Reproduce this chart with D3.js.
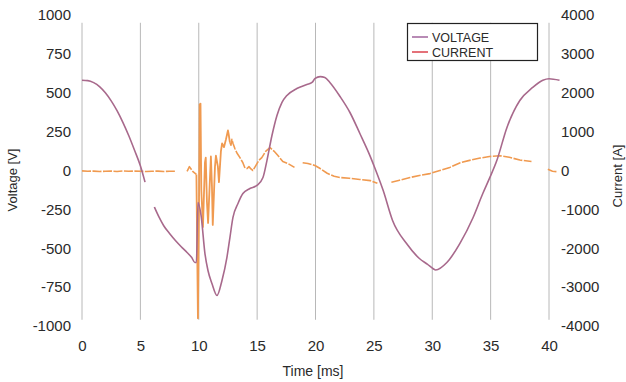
<!DOCTYPE html>
<html>
<head>
<meta charset="utf-8">
<script src="https://cdn.jsdelivr.net/npm/d3@7"></script>
<style>
  html, body { margin: 0; padding: 0; background: #fff; }
  svg { display: block; }
  text { font-family: "Liberation Sans", Arial, sans-serif; fill: #2a2a2a; }
</style>
</head>
<body>
<svg id="chart" width="626" height="382"></svg>
<script>
// ---- data ----
const xTicks = [0, 5, 10, 15, 20, 25, 30, 35, 40];
const voltageTicks = [1000, 750, 500, 250, 0, -250, -500, -750, -1000];
const currentTicks = [4000, 3000, 2000, 1000, 0, -1000, -2000, -3000, -4000];

// Voltage [V] vs time [ms] (null = gap in trace)
const voltageTime = [0, 0.5, 1, 1.5, 2, 2.5, 3, 3.5, 4, 4.5, 5, 5.4, 5.8,
  6.2, 6.6, 7, 7.5, 8, 8.5, 9, 9.4, 9.67, 9.8, 9.93, 10.2, 10.53, 10.79, 11.13, 11.56,
  11.99, 12.41, 12.67, 12.93, 13.36, 13.78, 14.38, 14.98, 15.5, 15.84, 16.27, 16.7,
  17.12, 17.55, 18.4, 19.26, 19.7, 19.97, 20.4, 20.8, 21.23, 22.1, 22.95, 23.8,
  24.66, 25.1, 25.8, 26.6, 27.8, 28.9, 29.6, 30.05, 30.3, 31.25, 32.36, 33.5, 34.33,
  34.9, 35.53, 36.4, 37.5, 38.6, 39.47, 40, 40.9];
const voltageValue = [580, 578, 565, 540, 500, 448, 385, 310, 225, 130, 30, -75, null,
  -235, -300, -355, -405, -450, -490, -527, -560, -592, -592, -206, -290, -534, -643, -727, -804,
  -707, -560, -431, -302, -212, -148, -116, -96, -45, 64, 225, 354,
  437, 482, 527, 553, 566, 592, 604, 598, 566, 476, 373, 238,
  96, 13, -129, -321, -470, -566, -604, -630, -640, -592, -470, -302, -148,
  -51, 64, 277, 450, 534, 580, 590, 580];

// Current [A] vs time [ms]
const currentTime = [0, 0.5, 1, 1.5, 2, 2.5, 3, 3.5, 4, 4.5, 5, 5.5, 6, 6.5, 7, 7.5, 8, 8.5,
  9.0, 9.2, 9.5, 9.8, 9.93, 10.02, 10.08, 10.15, 10.22, 10.36, 10.53, 10.6, 10.7, 10.8,
  10.96, 11.04, 11.13, 11.2, 11.39, 11.47, 11.64, 11.73, 11.9, 12.0, 12.16, 12.33, 12.5,
  12.58, 12.67, 12.76, 12.84, 12.93, 13.1, 13.27, 13.53, 13.78, 13.96, 14.13, 14.3, 14.47,
  14.64, 14.9, 15.15, 15.4, 15.75, 16.1, 16.44, 16.8, 17.2, 17.64, 18.2, 18.5,
  18.9, 19.35, 19.95, 20.4, 21, 21.6, 22.1, 22.9, 23.8, 24.7, 25.3, 25.9,
  26.5, 27.2, 28.1, 28.9, 29.8, 30.65, 31.5, 32.4, 33.2, 34.1, 34.9, 35.8, 36.6, 37.5,
  38.5, 39.2, 39.9, 40.3, 40.7];
const currentValue = [-10, -20, -15, -25, -20, -15, -25, -10, -20, -15, -20, -25, -20, -15, -25, -20, -20, null,
  -20, 100, -30, -100, -3800, -1000, 1700, 1720, -500, -1450, 200, 330, -800, -1350,
  -200, 360, -400, -1400, 100, 380, 100, -300, 500, 700, 600, 800, 1030,
  900, 720, 650, 800, 700, 560, 450, 330, 200, 60, 50, 100, 40,
  0, 130, 260, 330, 500, 590, 500, 380, 230, 180, 80, null,
  200, 180, 130, 50, -70, -150, -180, -200, -230, -260, -330, null,
  -300, -250, -180, -130, -80, 0, 80, 200, 260, 320, 360, 380, 340, 270,
  230, null, 30, -20, -30];

const legendLabels = ["VOLTAGE", "CURRENT"];

// ---- chart ----
const svg = d3.select("#chart");
const x = d3.scaleLinear().domain([0, 40]).range([82, 549]);
const yV = d3.scaleLinear().domain([-1000, 1000]).range([326, 15]);
const yI = d3.scaleLinear().domain([-4000, 4000]).range([326, 15]);
const fmt = d => String(d);

// vertical grid lines
svg.append("g").selectAll("line").data(xTicks).join("line")
  .attr("x1", d => x(d)).attr("x2", d => x(d))
  .attr("y1", yV(950)).attr("y2", yV(-960))
  .attr("stroke", "#b8b8b8").attr("stroke-width", 1);

function styleAxis(g) {
  g.select(".domain").remove();
  g.selectAll("text").attr("font-size", 15)
    .attr("font-family", "Liberation Sans, Arial, sans-serif").attr("fill", "#2a2a2a");
}
// left axis (labels only)
svg.append("g").attr("transform", "translate(71,0)")
  .call(d3.axisLeft(yV).tickValues(voltageTicks).tickFormat(fmt).tickSize(0).tickPadding(0))
  .call(styleAxis);
// right axis (labels only)
svg.append("g").attr("transform", "translate(561,0)")
  .call(d3.axisRight(yI).tickValues(currentTicks).tickFormat(fmt).tickSize(0).tickPadding(0))
  .call(styleAxis);
// bottom axis (labels only)
svg.append("g").attr("transform", "translate(0,340)")
  .call(d3.axisBottom(x).tickValues(xTicks).tickFormat(fmt).tickSize(0).tickPadding(0))
  .call(styleAxis);

// axis titles
svg.append("text").attr("x", 313).attr("y", 376).attr("text-anchor", "middle")
  .attr("font-size", 14).text("Time [ms]");
svg.append("text").attr("transform", "translate(17,180) rotate(-90)")
  .attr("text-anchor", "middle").attr("font-size", 13).text("Voltage [V]");
svg.append("text").attr("transform", "translate(622,176) rotate(-90)")
  .attr("text-anchor", "middle").attr("font-size", 13).text("Current [A]");

// current trace: dashed in steady parts, solid during the fault transient
const currentData = currentTime.map((t, i) => ({ t, v: currentValue[i] }));
const inFault = d => d.t >= 9.8 && d.t <= 12.7;
const lineSteady = d3.line().defined(d => d.v !== null && !(d.t > 9.8 && d.t < 12.67))
  .x(d => x(d.t)).y(d => yI(d.v));
const lineFault = d3.line().defined(d => d.v !== null && inFault(d))
  .x(d => x(d.t)).y(d => yI(d.v));
svg.append("path").datum(currentData)
  .attr("d", lineSteady).attr("fill", "none")
  .attr("stroke", "#f09a50").attr("stroke-width", 1.6)
  .attr("stroke-dasharray", "9,1.5").attr("stroke-linejoin", "round");
svg.append("path").datum(currentData)
  .attr("d", lineFault).attr("fill", "none")
  .attr("stroke", "#f09a50").attr("stroke-width", 1.8).attr("stroke-linejoin", "round");

// voltage trace
const voltageData = voltageTime.map((t, i) => ({ t, v: voltageValue[i] }));
const lineV = d3.line().defined(d => d.v !== null).x(d => x(d.t)).y(d => yV(d.v)).curve(d3.curveMonotoneX);
svg.append("path").datum(voltageData)
  .attr("d", lineV).attr("fill", "none")
  .attr("stroke", "#a8698c").attr("stroke-width", 1.6).attr("stroke-linejoin", "round");

// legend
const lg = svg.append("g");
lg.append("rect").attr("x", 407.5).attr("y", 23.5).attr("width", 130).attr("height", 37)
  .attr("fill", "#fff").attr("stroke", "#222").attr("stroke-width", 1.2);
const legendColors = ["#9a5a96", "#d8343f"];
legendLabels.forEach((lab, i) => {
  const yy = 37 + i * 15;
  lg.append("line").attr("x1", 412).attr("x2", 428).attr("y1", yy).attr("y2", yy)
    .attr("stroke", legendColors[i]).attr("stroke-width", 1.4);
  lg.append("text").attr("x", 432).attr("y", yy + 4.5).attr("font-size", 12.5).text(lab);
});
</script>
</body>
</html>
